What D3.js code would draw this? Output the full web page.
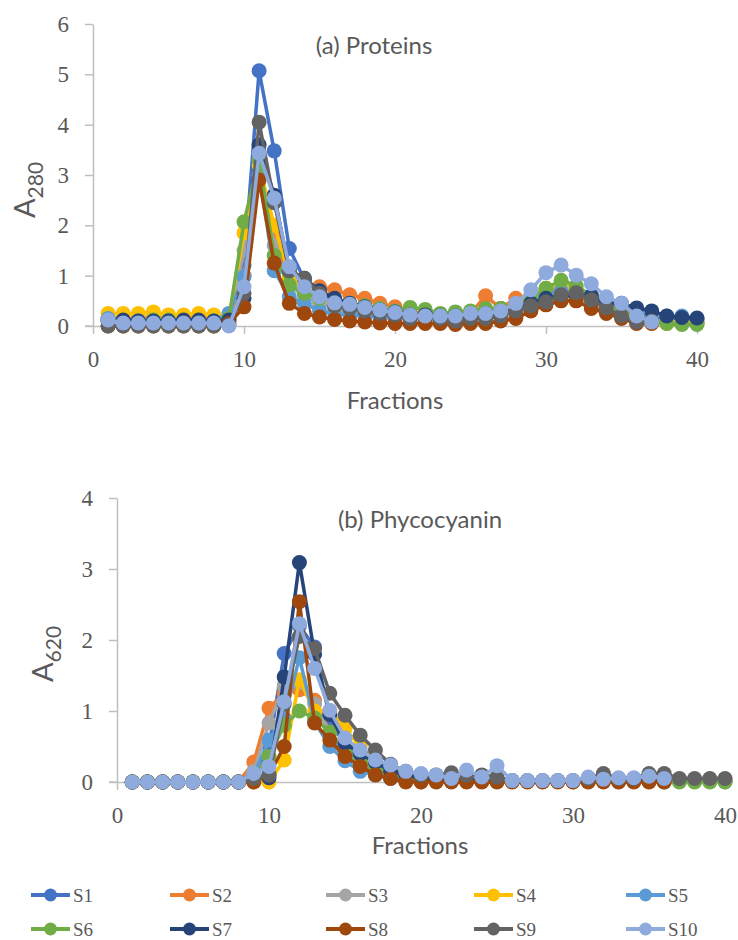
<!DOCTYPE html>
<html>
<head>
<meta charset="utf-8">
<script src="https://cdn.jsdelivr.net/npm/d3@7"></script>
<style>
  body { margin: 0; background: #fff; }
  svg { display: block; }
</style>
</head>
<body>
<div id="chart"></div>
<script>
// fraction numbers (x values)
const fractions = [1, 2, 3, 4, 5, 6, 7, 8, 9, 10, 11, 12, 13, 14, 15, 16, 17, 18, 19, 20,
  21, 22, 23, 24, 25, 26, 27, 28, 29, 30, 31, 32, 33, 34, 35, 36, 37, 38, 39, 40];

const seriesNames = ["S1", "S2", "S3", "S4", "S5", "S6", "S7", "S8", "S9", "S10"];
const seriesColors = ["#4472c4", "#ed7d31", "#a5a5a5", "#ffc000", "#5b9bd5",
  "#70ad47", "#264478", "#9e480e", "#636363", "#8faadc"];

const xTicks = [0, 10, 20, 30, 40];
const protTicksY = [0, 1, 2, 3, 4, 5, 6];
const phycoTicksY = [0, 1, 2, 3, 4];

// (a) Proteins, A280
const protS1 = [0.15, 0.12, 0.12, 0.15, 0.12, 0.12, 0.12, 0.12, 0.15, 1.2, 5.07, 3.48, 1.54, 0.92, 0.7, 0.55, 0.45, 0.4, 0.35, 0.3,
  0.25, 0.25, 0.2, 0.2, 0.25, 0.3, 0.35, 0.4, 0.5, 0.65, 0.7, 0.65, 0.55, 0.45, 0.35, 0.25, 0.2, 0.15, 0.15, 0.12];
const protS2 = [0.15, 0.15, 0.15, 0.15, 0.15, 0.15, 0.15, 0.15, 0.1, 1.0, 3.0, 1.8, 0.9, 0.8, 0.78, 0.72, 0.62, 0.55, 0.45, 0.38,
  0.28, 0.25, 0.2, 0.2, 0.25, 0.6, 0.35, 0.55, 0.6, 0.7, 0.75, 0.7, 0.55, 0.4, 0.3, 0.2, 0.1, 0.08, 0.05, 0.05];
const protS3 = [0.1, 0.1, 0.1, 0.1, 0.1, 0.1, 0.1, 0.1, 0.1, 1.5, 3.3, 1.6, 0.8, 0.6, 0.45, 0.35, 0.3, 0.25, 0.2, 0.2,
  0.15, 0.15, 0.15, 0.12, 0.15, 0.2, 0.2, 0.3, 0.4, 0.55, 0.6, 0.6, 0.5, 0.35, 0.25, 0.15, 0.1, 0.05, 0.05, 0.05];
const protS4 = [0.25, 0.25, 0.25, 0.28, 0.22, 0.22, 0.25, 0.22, 0.18, 1.85, 3.2, 2.0, 1.0, 0.7, 0.55, 0.45, 0.4, 0.35, 0.3, 0.25,
  0.2, 0.2, 0.2, 0.2, 0.25, 0.3, 0.3, 0.4, 0.6, 0.75, 0.8, 0.75, 0.6, 0.4, 0.3, 0.2, 0.1, 0.05, 0.05, 0.05];
const protS5 = [0.15, 0.1, 0.1, 0.1, 0.1, 0.1, 0.1, 0.1, 0.25, 0.98, 3.0, 1.1, 0.58, 0.45, 0.3, 0.25, 0.22, 0.2, 0.18, 0.15,
  0.15, 0.15, 0.12, 0.12, 0.15, 0.2, 0.25, 0.35, 0.5, 0.65, 0.7, 0.65, 0.55, 0.45, 0.35, 0.25, 0.2, 0.2, 0.2, 0.15];
const protS6 = [0.1, 0.1, 0.1, 0.12, 0.12, 0.1, 0.1, 0.1, 0.15, 2.07, 3.3, 1.4, 0.82, 0.65, 0.55, 0.5, 0.45, 0.4, 0.35, 0.3,
  0.37, 0.33, 0.25, 0.28, 0.3, 0.35, 0.35, 0.4, 0.55, 0.75, 0.91, 0.8, 0.6, 0.45, 0.35, 0.2, 0.1, 0.05, 0.03, 0.03];
const protS7 = [0.1, 0.12, 0.1, 0.1, 0.1, 0.12, 0.12, 0.1, 0.12, 0.55, 3.6, 2.6, 1.1, 0.95, 0.7, 0.55, 0.45, 0.38, 0.32, 0.28,
  0.22, 0.22, 0.2, 0.2, 0.22, 0.25, 0.28, 0.35, 0.45, 0.55, 0.6, 0.6, 0.6, 0.45, 0.45, 0.36, 0.3, 0.2, 0.17, 0.16];
const protS8 = [0.0, 0.0, 0.0, 0.0, 0.0, 0.0, 0.0, 0.0, 0.05, 0.38, 2.9, 1.25, 0.45, 0.25, 0.18, 0.13, 0.1, 0.08, 0.06, 0.05,
  0.05, 0.05, 0.05, 0.03, 0.05, 0.05, 0.1, 0.15, 0.3, 0.42, 0.5, 0.5, 0.35, 0.25, 0.15, 0.05, 0.05];
const protS9 = [0.0, 0.0, 0.0, 0.0, 0.0, 0.0, 0.0, 0.0, 0.02, 0.65, 4.05, 2.45, 1.1, 0.95, 0.65, 0.4, 0.35, 0.3, 0.25, 0.22,
  0.15, 0.2, 0.15, 0.1, 0.15, 0.15, 0.2, 0.3, 0.4, 0.48, 0.62, 0.66, 0.52, 0.36, 0.2, 0.08, 0.1];
const protS10 = [0.12, 0.06, 0.06, 0.06, 0.06, 0.06, 0.06, 0.06, 0.0, 0.78, 3.43, 2.54, 1.18, 0.78, 0.58, 0.46, 0.43, 0.37, 0.32, 0.27,
  0.22, 0.2, 0.2, 0.2, 0.25, 0.25, 0.3, 0.45, 0.72, 1.06, 1.21, 1.01, 0.84, 0.58, 0.45, 0.2, 0.08];

// (b) Phycocyanin, A620
const phycoS1 = [0, 0, 0, 0, 0, 0, 0, 0, 0.1, 0.5, 1.81, 2.2, 1.9, 0.9, 0.5, 0.3, 0.2, 0.12, 0.08, 0.05,
  0.03, 0.02, 0.02, 0.02, 0.02, 0.01, 0.01, 0.01, 0.01, 0.01, 0.01, 0.02, 0.02, 0.02, 0.02, 0.02, 0.02, 0.01, 0.01, 0.01];
const phycoS2 = [0, 0, 0, 0, 0, 0, 0, 0, 0.28, 1.04, 1.25, 1.3, 1.15, 0.7, 0.45, 0.3, 0.2, 0.12, 0.08, 0.05,
  0.03, 0.02, 0.02, 0.02, 0.01, 0.01, 0.01, 0.01, 0.01, 0.01, 0.01, 0.02, 0.02, 0.02, 0.02, 0.02, 0.02, 0.02, 0.02, 0.02];
const phycoS3 = [0, 0, 0, 0, 0, 0, 0, 0, 0.15, 0.83, 1.35, 1.4, 1.1, 0.7, 0.4, 0.25, 0.12, 0.06, 0.03, 0.02,
  0.02, 0.02, 0.02, 0.02, 0.01, 0.01, 0.01, 0.01, 0.01, 0.01, 0.01, 0.02, 0.02, 0.02, 0.02, 0.02, 0.02, 0.02, 0.02, 0.02];
const phycoS4 = [0, 0, 0, 0, 0, 0, 0, 0, 0.0, 0.0, 0.31, 1.44, 1.0, 1.0, 0.75, 0.5, 0.3, 0.18, 0.1, 0.05,
  0.03, 0.02, 0.02, 0.02, 0.01, 0.01, 0.01, 0.01, 0.01, 0.01, 0.01, 0.02, 0.02, 0.02, 0.02, 0.02, 0.02, 0.02, 0.02, 0.02];
const phycoS5 = [0, 0, 0, 0, 0, 0, 0, 0, 0.1, 0.59, 0.9, 1.75, 0.85, 0.5, 0.3, 0.15, 0.1, 0.05, 0.03, 0.02,
  0.02, 0.01, 0.01, 0.01, 0.01, 0.01, 0.01, 0.01, 0.01, 0.01, 0.01, 0.01, 0.01, 0.01, 0.01, 0.01, 0.01, 0.01, 0.01, 0.01];
const phycoS6 = [0, 0, 0, 0, 0, 0, 0, 0, 0.05, 0.36, 0.8, 1.0, 0.9, 0.7, 0.45, 0.3, 0.2, 0.12, 0.08, 0.05,
  0.03, 0.02, 0.02, 0.02, 0.01, 0.01, 0.01, 0.01, 0.01, 0.01, 0.01, 0.01, 0.01, 0.01, 0.01, 0.0, 0.0, 0.0, 0.0, 0.0];
const phycoS7 = [0, 0, 0, 0, 0, 0, 0, 0, 0.05, 0.06, 1.48, 3.09, 1.8, 0.95, 0.55, 0.4, 0.28, 0.15, 0.1, 0.05,
  0.03, 0.02, 0.02, 0.02, 0.01, 0.01, 0.01, 0.01, 0.01, 0.01, 0.02, 0.03, 0.03, 0.03, 0.04, 0.03];
const phycoS8 = [0, 0, 0, 0, 0, 0, 0, 0, 0.0, 0.1, 0.5, 2.54, 0.83, 0.59, 0.36, 0.22, 0.1, 0.05, 0.0, 0.0,
  0.0, 0.0, 0.0, 0.0, 0.0, 0.0, 0.0, 0.0, 0.0, 0.0, 0.0, 0.0, 0.0, 0.0, 0.0, 0.0];
const phycoS9 = [0, 0, 0, 0, 0, 0, 0, 0, 0.05, 0.1, 1.1, 2.05, 1.88, 1.25, 0.94, 0.66, 0.45, 0.25, 0.15, 0.1,
  0.1, 0.13, 0.1, 0.1, 0.07, 0.02, 0.02, 0.02, 0.02, 0.02, 0.05, 0.12, 0.05, 0.05, 0.12, 0.12, 0.05, 0.05, 0.05, 0.05];
const phycoS10 = [0, 0, 0, 0, 0, 0, 0, 0, 0.12, 0.22, 1.13, 2.23, 1.6, 1.01, 0.62, 0.45, 0.31, 0.24, 0.15, 0.12,
  0.1, 0.05, 0.17, 0.07, 0.23, 0.02, 0.02, 0.02, 0.02, 0.02, 0.07, 0.04, 0.06, 0.06, 0.08, 0.05];

const protSeries = [protS1, protS2, protS3, protS4, protS5, protS6, protS7, protS8, protS9, protS10];
const phycoSeries = [phycoS1, phycoS2, phycoS3, phycoS4, phycoS5, phycoS6, phycoS7, phycoS8, phycoS9, phycoS10];

const width = 738, height = 940;
const axisColor = "#bfbfbf", textColor = "#595959";
const serif = "'Liberation Serif', 'DejaVu Serif', serif";
const sans = "Lato, 'Open Sans', sans-serif";

const svg = d3.select("#chart").append("svg")
  .attr("width", width)
  .attr("height", height)
  .attr("viewBox", `0 0 ${width} ${height}`);

function drawPanel(cfg) {
  const x = d3.scaleLinear().domain([0, 40]).range([cfg.left, cfg.right]);
  const y = d3.scaleLinear().domain([0, cfg.yMax]).range([cfg.bottom, cfg.top]);

  const g = svg.append("g");

  // y axis
  g.append("g")
    .attr("transform", `translate(${cfg.left},0)`)
    .call(d3.axisLeft(y).tickValues(cfg.yTicks).tickSize(8).tickSizeOuter(0).tickPadding(16).tickFormat(d3.format("d")))
    .call((a) => a.select(".domain").attr("stroke", axisColor).attr("stroke-width", 1.5))
    .call((a) => a.selectAll(".tick line").attr("stroke", axisColor).attr("stroke-width", 1.5))
    .call((a) => a.selectAll(".tick text").attr("fill", textColor).style("font-family", serif).style("font-size", "23px"));

  // x axis sits on y = 0
  g.append("g")
    .attr("transform", `translate(0,${y(0)})`)
    .call(d3.axisBottom(x).tickValues(xTicks).tickSize(8).tickSizeOuter(0).tickPadding(17))
    .call((a) => a.select(".domain").attr("stroke", axisColor).attr("stroke-width", 1.5))
    .call((a) => a.selectAll(".tick line").attr("stroke", axisColor).attr("stroke-width", 1.5))
    .call((a) => a.selectAll(".tick text").attr("fill", textColor).style("font-family", serif).style("font-size", "23px"));

  // the x axis line also runs left past the y axis a little, like the y tick at 0
  g.append("line")
    .attr("x1", cfg.left - 8).attr("x2", cfg.left)
    .attr("y1", y(0)).attr("y2", y(0))
    .attr("stroke", axisColor).attr("stroke-width", 1.5);

  const line = d3.line()
    .x((d) => x(d[0]))
    .y((d) => y(d[1]));

  cfg.series.forEach(function (vals, i) {
    const pts = vals.map((v, j) => [fractions[j], v]);
    const sg = g.append("g").attr("class", "series " + seriesNames[i]);
    sg.append("path")
      .datum(pts)
      .attr("fill", "none")
      .attr("stroke", seriesColors[i])
      .attr("stroke-width", 3.5)
      .attr("stroke-linejoin", "round")
      .attr("d", line);
    sg.selectAll("circle")
      .data(pts)
      .enter()
      .append("circle")
      .attr("cx", (d) => x(d[0]))
      .attr("cy", (d) => y(d[1]))
      .attr("r", 7.5)
      .attr("fill", seriesColors[i]);
  });

  // title
  g.append("text")
    .attr("x", cfg.titleX)
    .attr("y", cfg.titleY)
    .attr("text-anchor", "middle")
    .attr("fill", textColor)
    .style("font-family", sans)
    .style("font-size", "24px")
    .text(cfg.title);

  // x axis title
  g.append("text")
    .attr("x", cfg.xTitleX)
    .attr("y", cfg.xTitleY)
    .attr("text-anchor", "middle")
    .attr("fill", textColor)
    .style("font-family", sans)
    .style("font-size", "24px")
    .text("Fractions");

  // y axis title A with subscript
  const yt = g.append("text")
    .attr("transform", `translate(${cfg.yTitleX},${cfg.yTitleY}) rotate(-90)`)
    .attr("text-anchor", "middle")
    .attr("fill", textColor)
    .style("font-family", sans);
  yt.append("tspan").style("font-size", "29px").text("A");
  yt.append("tspan").style("font-size", "21px").attr("dy", 8).text(cfg.sub);
}

drawPanel({
  series: protSeries, yMax: 6, yTicks: protTicksY,
  left: 93, right: 697, top: 24, bottom: 326,
  title: "(a) Proteins", titleX: 374, titleY: 54,
  xTitleX: 395, xTitleY: 409,
  yTitleX: 35, yTitleY: 190, sub: "280"
});

drawPanel({
  series: phycoSeries, yMax: 4, yTicks: phycoTicksY,
  left: 117, right: 725, top: 498, bottom: 782,
  title: "(b) Phycocyanin", titleX: 420, titleY: 528,
  xTitleX: 420, xTitleY: 854,
  yTitleX: 53, yTitleY: 654, sub: "620"
});

// legend, two rows of five
const legendX = [31, 170, 326, 474, 626];
const legendY = [895, 929];
const legend = svg.append("g").attr("class", "legend");
seriesNames.forEach(function (name, i) {
  const lx = legendX[i % 5], ly = legendY[Math.floor(i / 5)];
  const item = legend.append("g").attr("transform", `translate(${lx},${ly})`);
  item.append("line")
    .attr("x1", 0).attr("x2", 39)
    .attr("stroke", seriesColors[i]).attr("stroke-width", 4);
  item.append("circle").attr("cx", 19.5).attr("r", 6.5).attr("fill", seriesColors[i]);
  item.append("text")
    .attr("x", 42).attr("dy", "0.35em")
    .attr("fill", textColor)
    .style("font-family", serif)
    .style("font-size", "19px")
    .text(name);
});
</script>
</body>
</html>
